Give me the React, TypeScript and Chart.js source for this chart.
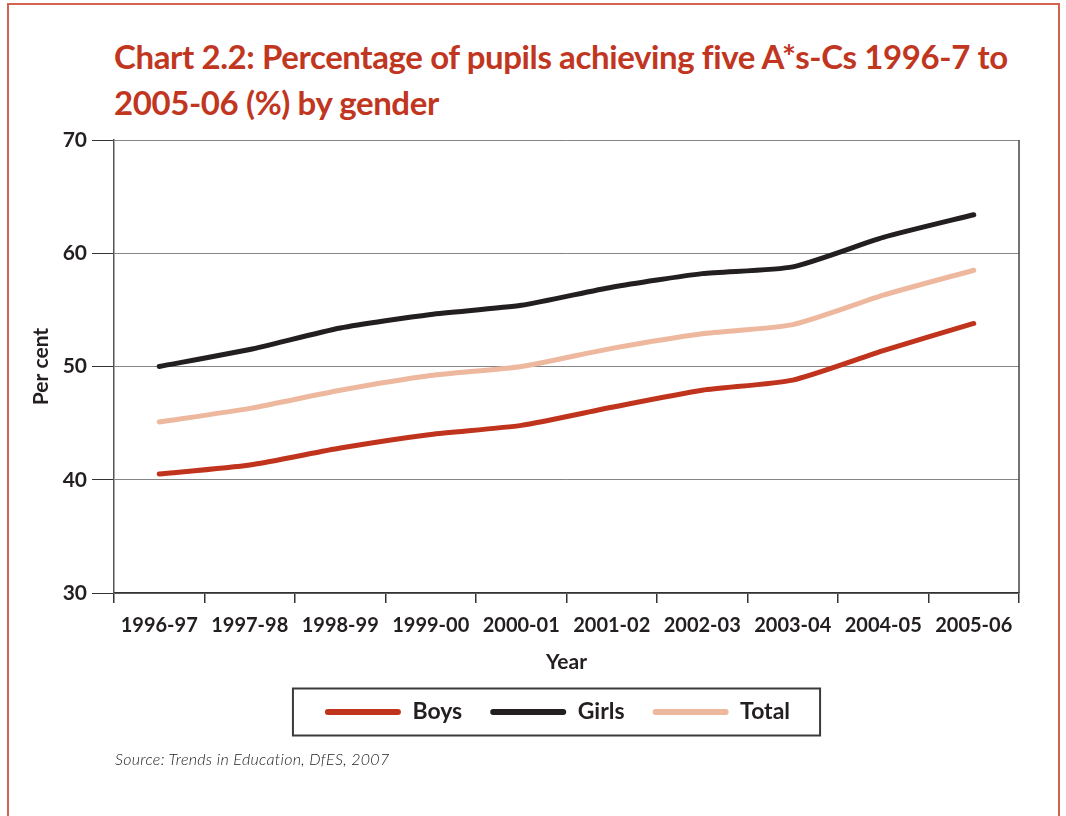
import React, { useEffect, useRef } from 'react';
import { Chart, registerables } from 'chart.js';

Chart.register(...registerables);

const years = ['1996-97', '1997-98', '1998-99', '1999-00', '2000-01', '2001-02', '2002-03', '2003-04', '2004-05', '2005-06'];
const boys = [40.5, 41.3, 42.8, 44.0, 44.8, 46.4, 47.9, 48.8, 51.4, 53.8];
const girls = [50.0, 51.5, 53.4, 54.6, 55.4, 57.0, 58.2, 58.8, 61.4, 63.4];
const total = [45.1, 46.3, 47.9, 49.2, 50.0, 51.6, 52.9, 53.7, 56.3, 58.5];
const yTicks = [30, 40, 50, 60, 70];

const seriesNames = ['Boys', 'Girls', 'Total'];
const seriesColors = ['#c0341d', '#231f20', '#edb89e'];

const FONT = "Lato, 'DejaVu Sans', sans-serif";
const TEXT = '#231f20';

const framePlugin = {
  id: 'framePlugin',
  afterLayout(chart: any) {
    const lg = chart.legend;
    if (lg) {
      lg.left -= 9;
      lg.right -= 9;
    }
  },
  afterDraw(chart: any) {
    const { ctx, chartArea } = chart;
    ctx.save();
    ctx.strokeStyle = '#444';
    ctx.lineWidth = 1.5;
    ctx.beginPath();
    ctx.moveTo(chartArea.right, chartArea.top);
    ctx.lineTo(chartArea.right, chartArea.bottom);
    ctx.stroke();
    const boxes = chart.legend && chart.legend.legendHitBoxes;
    if (boxes && boxes.length) {
      const l = Math.min(...boxes.map((b: any) => b.left)) - 32;
      const r = Math.max(...boxes.map((b: any) => b.left + b.width)) + 30;
      const cy = boxes[0].top + boxes[0].height / 2;
      ctx.strokeStyle = '#3a3a3a';
      ctx.lineWidth = 2;
      ctx.strokeRect(l, cy - 23.5, r - l, 47);
    }
    ctx.restore();
  },
};

export default function App() {
  const canvasRef = useRef<HTMLCanvasElement | null>(null);

  useEffect(() => {
    if (!canvasRef.current) return;
    Chart.defaults.font.family = FONT;
    const dataArrays = [boys, girls, total];
    const chart = new Chart(canvasRef.current, {
      type: 'line',
      data: {
        labels: years,
        datasets: dataArrays.map((d, i) => ({
          label: seriesNames[i],
          data: d,
          borderColor: seriesColors[i],
          backgroundColor: seriesColors[i],
          borderWidth: 5,
          pointRadius: 0,
          tension: 0.2,
          borderCapStyle: 'round' as const,
          borderJoinStyle: 'round' as const,
          fill: false,
        })),
      },
      options: {
        animation: false,
        responsive: false,
        layout: { padding: { left: 0, right: 47, top: 140, bottom: 82.5 } },
        plugins: {
          title: { display: false },
          tooltip: { enabled: false },
          legend: {
            display: true,
            position: 'bottom',
            fullSize: false,
            labels: {
              boxWidth: 76,
              boxHeight: 6,
              padding: 28,
              color: TEXT,
              font: { size: 23, weight: 'bold', family: FONT },
              useBorderRadius: true,
              borderRadius: 3,
              generateLabels: (c: any) =>
                c.data.datasets.map((ds: any, i: number) => ({
                  text: ds.label,
                  fillStyle: ds.borderColor,
                  strokeStyle: ds.borderColor,
                  lineWidth: 0,
                  hidden: false,
                  datasetIndex: i,
                  borderRadius: 3,
                  fontColor: TEXT,
                })),
            },
          },
        },
        scales: {
          x: {
            offset: true,
            grid: { offset: true, drawOnChartArea: false, drawTicks: true, tickLength: 10, tickColor: '#333', lineWidth: 1.5 },
            border: { color: '#333', width: 1.5 },
            ticks: { padding: 11, color: TEXT, font: { size: 20, weight: 'bold' }, maxRotation: 0, autoSkip: false },
            title: { display: true, text: 'Year', color: TEXT, font: { size: 21, weight: 'bold', lineHeight: 1 }, padding: 0 },
            afterFit: (s: any) => { s.height = 79.5; },
          },
          y: {
            min: 30,
            max: 70,
            afterBuildTicks: (s: any) => { s.ticks = yTicks.map((v) => ({ value: v })); },
            ticks: { padding: 5, color: TEXT, font: { size: 21, weight: 'bold' } },
            grid: { color: '#858585', lineWidth: 1, tickLength: 22, tickColor: '#333', drawTicks: true },
            border: { color: '#555', width: 1.5 },
            title: { display: true, text: 'Per cent', color: TEXT, font: { size: 21, weight: 'bold' }, padding: { top: 29, bottom: 0 } },
            afterFit: (s: any) => { s.width = 114; },
          },
        },
      },
      plugins: [framePlugin],
    } as any);
    return () => chart.destroy();
  }, []);

  return (
    <div style={{ position: 'absolute', left: 0, top: 0, width: 1066, height: 816, overflow: 'hidden', background: '#fff' }}>
      <div style={{ position: 'absolute', left: 7, top: 3, width: 1053, height: 900, border: '2px solid #d2644f', boxSizing: 'border-box' }} />
      <div style={{ position: 'absolute', left: 114, top: 33, fontFamily: FONT, fontWeight: 700, fontSize: 33, letterSpacing: '-0.4px', lineHeight: '46px', color: '#c1361f', whiteSpace: 'nowrap' }}>
        Chart 2.2: Percentage of pupils achieving five A*s-Cs 1996-7 to
        <br />
        2005-06 (%) by gender
      </div>
      <canvas ref={canvasRef} width={1066} height={816} style={{ position: 'absolute', left: 0, top: 0, width: 1066, height: 816 }} />
      <div style={{ position: 'absolute', left: 115, top: 749, fontFamily: FONT, fontStyle: 'italic', fontWeight: 300, fontSize: 16, letterSpacing: '0.3px', color: '#222', whiteSpace: 'nowrap' }}>
        Source: Trends in Education, DfES, 2007
      </div>
    </div>
  );
}
